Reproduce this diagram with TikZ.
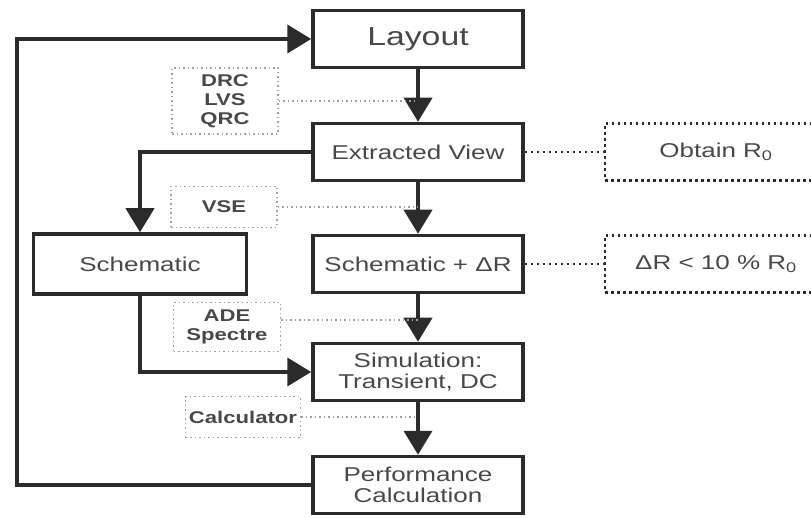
\documentclass[tikz,border=0pt]{standalone}
\usepackage{fontspec}
\setmainfont{Liberation Sans}[FakeStretch=1.3]
\usepackage{tikz}
\usetikzlibrary{arrows.meta}
\usetikzlibrary{calc}
\definecolor{textgray}{HTML}{484848}
\definecolor{linegray}{HTML}{2B2B2B}
\definecolor{dotgray}{HTML}{A0A0A0}

\begin{document}
\begin{tikzpicture}[
        x=1pt, y=-1pt, % coordenadas en pixeles de la figura
        box/.style={draw=linegray, line width=3.5pt, text=textgray, align=center,
            font=\fontsize{20}{21}\selectfont, minimum width=210pt, minimum height=57pt, inner sep=2pt}, % bloques del flujo
        tool/.style={draw=dotgray, dash pattern=on 1.5pt off 3pt, line width=1.5pt, text=textgray,
            align=center, font=\bfseries\fontsize{17}{19}\selectfont, inner sep=2pt}, % herramientas
        note/.style={draw=linegray, dash pattern=on 2.5pt off 3.5pt, line width=2.5pt, text=textgray,
            font=\fontsize{20}{21}\selectfont, minimum width=222pt, minimum height=57pt}, % notas a la derecha
        flow/.style={-{Triangle[length=24pt, width=28pt]}, draw=linegray, line width=4pt}, % flechas
        link/.style={draw=dotgray, dash pattern=on 1.5pt off 3pt, line width=1.5pt}, % lineas de ayuda
        hint/.style={draw=linegray, dash pattern=on 2.5pt off 3.5pt, line width=2.5pt}
    ]
        \useasboundingbox (0,0) rectangle (811,518);

        % --- Bloques del flujo ---
        \node[box, font=\fontsize{26}{28}\selectfont] (lay) at (418,39) {Layout};
        \node[box] (ext) at (418,152) {Extracted View};
        \node[box] (schr) at (418,264) {Schematic + ΔR};
        \node[box, minimum width=213pt, minimum height=60pt] (sch) at (140,264) {Schematic};
        \node[box] (sim) at (418,372) {Simulation:\\Transient, DC};
        \node[box] (perf) at (418,485) {Performance\\Calculation};

        % --- Herramientas (cajas punteadas) ---
        \node[tool, minimum width=106pt, minimum height=66pt] (drc) at (225,101) {DRC\\LVS\\QRC};
        \node[tool, minimum width=106pt, minimum height=41pt] (vse) at (224,207) {VSE};
        \node[tool, minimum width=107pt, minimum height=49pt] (ade) at (227,327) {ADE\\Spectre};
        \node[tool, minimum width=115pt, minimum height=41pt] (calc) at (243,417) {Calculator};

        % --- Notas sobre la resistencia ---
        \node[note] (r0) at (716,152) {Obtain R\textsubscript{0}};
        \node[note] (dr) at (716,264) {ΔR < 10 \% R\textsubscript{0}};

        % --- Flechas principales ---
        \draw[flow] (lay) -- (ext);
        \draw[flow] (ext) -- (schr);
        \draw[flow] (schr) -- (sim);
        \draw[flow] (sim) -- (perf);
        \draw[flow] (ext.west) -| (sch.north);
        \draw[flow] (sch.south) |- (sim.west);

        % Lazo de retorno hacia el layout
        \coordinate (fb) at (17,0);
        \draw[flow] (perf.west) -- (perf.west -| fb) |- (lay.west);

        % --- Lineas punteadas ---
        \draw[link] (drc.east) -- (drc.east -| lay.south);
        \draw[link] (vse.east) -- (vse.east -| ext.south);
        \draw[link] ([yshift=7pt]ade.east) -- ([yshift=7pt]ade.east -| schr.south);
        \draw[link] (calc.east) -- (calc.east -| sim.south);
        \draw[hint] (ext.east) -- (r0.west);
        \draw[hint] (schr.east) -- (dr.west);

    \end{tikzpicture}
\end{document}
